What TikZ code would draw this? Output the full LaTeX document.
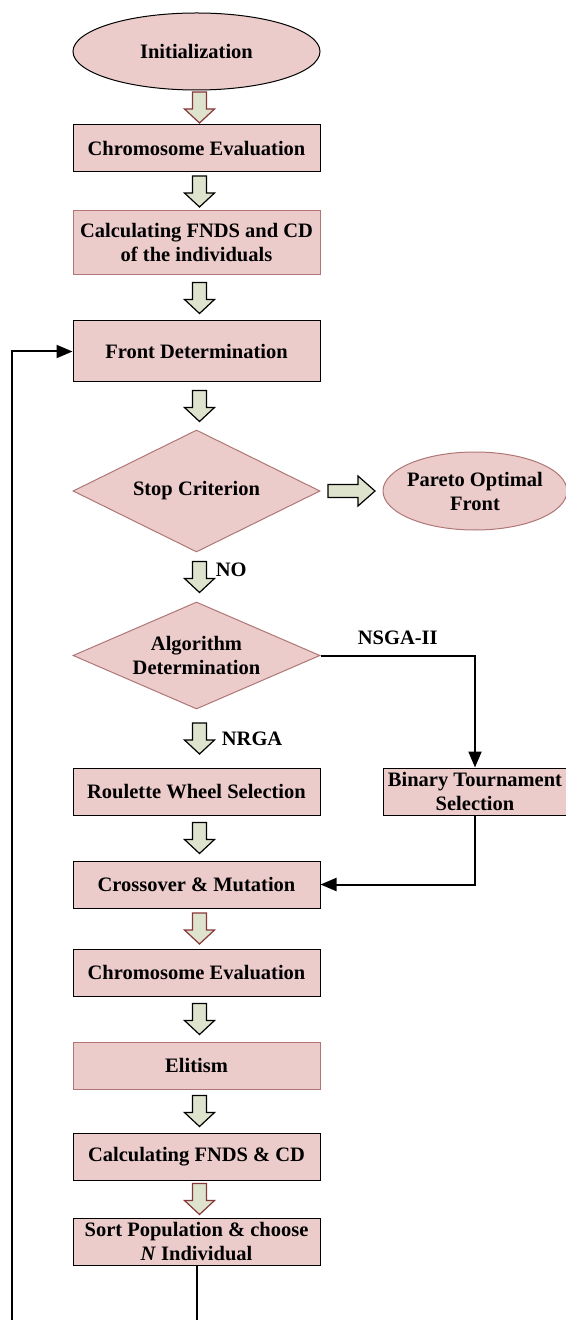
\documentclass[tikz,border=0pt]{standalone}
\usepackage{fontspec}
\setmainfont{Liberation Serif}
\usepackage{xcolor}
\usepackage{tikz}
\usetikzlibrary{positioning}
\usetikzlibrary{calc}
\usetikzlibrary{shapes.geometric}
\usetikzlibrary{arrows.meta}

\definecolor{boxpink}{RGB}{236,203,203}
\definecolor{arrowgreen}{RGB}{221,227,204}
\definecolor{rimred}{RGB}{176,118,118}
\definecolor{tipred}{RGB}{135,55,55}

% fat block arrow between two stacked nodes
\newcommand{\fatdown}[3][black]{%
  \draw[fatarrow, draw=#1] ($(#2.south)!0.5!(#3.north)$) ++(-2pt,7.75pt) -- ++(7pt,0) -- ++(0,-8.5pt)
    -- ++(4pt,0) -- ++(-7.5pt,-7pt) -- ++(-7.5pt,7pt) -- ++(4pt,0) -- cycle;}
\newcommand{\fatright}[3][black]{%
  \draw[fatarrow, draw=#1] ($(#2.east)!0.5!(#3.west)$) ++(-11.75pt,3.25pt) -- ++(15pt,0) -- ++(0,4.25pt)
    -- ++(8.5pt,-7.5pt) -- ++(-8.5pt,-7.5pt) -- ++(0,4.25pt) -- ++(-15pt,0) -- cycle;}

\begin{document}
\begin{tikzpicture}[
  txt/.style={font=\fontsize{10.25pt}{12pt}\selectfont\bfseries, align=center},
  box/.style={txt, rectangle, draw, fill=boxpink, line width=0.5pt, minimum width=123.5pt, minimum height=23.5pt, inner sep=1pt},
  term/.style={txt, ellipse, draw, fill=boxpink, line width=0.5pt, minimum width=123.5pt, minimum height=38.5pt, inner xsep=-2pt, inner ysep=0pt},
  decision/.style={txt, diamond, aspect=2, draw=rimred, fill=boxpink, line width=0.5pt, minimum width=123.5pt, inner sep=0pt},
  lbl/.style={txt, inner sep=0pt},
  fatarrow/.style={fill=arrowgreen, line width=0.6pt, line join=miter},
  flow/.style={line width=1pt, -{Triangle[length=8pt,width=6.5pt]}}
]
\useasboundingbox (0,0) rectangle (283pt,-660pt);
% start
\node[term] (init) at (98.25pt,-25.75pt) {Initialization};
\node[box, below=17pt of init] (ce1) {Chromosome Evaluation};
\node[box, draw=rimred, minimum height=32pt, below=19pt of ce1] (calc1) {Calculating FNDS and CD\\of the individuals};
\node[box, minimum height=30.5pt, below=22.5pt of calc1] (front) {Front Determination};
% stop test
\node[decision, minimum height=61pt, below=23.5pt of front] (stop) {Stop Criterion};
\node[term, draw=rimred, minimum width=92pt, minimum height=39pt, right=31pt of stop] (pareto) {Pareto Optimal\\Front};
% algorithm choice
\node[decision, minimum height=53.5pt, below=24.5pt of stop] (alg) {Algorithm\\Determination};
\node[box, below=29pt of alg] (rws) {Roulette Wheel Selection};
\node[box, minimum width=92pt, right=31pt of rws] (bts) {Binary Tournament\\Selection};
% offspring
\node[box, below=22.5pt of rws] (cm) {Crossover \& Mutation};
\node[box, below=20pt of cm] (ce2) {Chromosome Evaluation};
\node[box, draw=rimred, below=22.5pt of ce2] (elit) {Elitism};
\node[box, below=21.5pt of elit] (calc2) {Calculating FNDS \& CD};
\node[box, inner ysep=0pt, below=18.5pt of calc2] (sort) {Sort Population \& choose\\\textit{N} Individual};
% block arrows
\fatdown[tipred]{init}{ce1}
\fatdown{ce1}{calc1}
\fatdown{calc1}{front}
\fatdown{front}{stop}
\fatright{stop}{pareto}
\fatdown{stop}{alg}
\fatdown{alg}{rws}
\fatdown{rws}{cm}
\fatdown[tipred]{cm}{ce2}
\fatdown{ce2}{elit}
\fatdown{elit}{calc2}
\fatdown[tipred]{calc2}{sort}
% labels
\node[lbl, below right=5pt and 9.5pt of stop.south] (no) {NO};
\node[lbl, below right=11pt and 12.5pt of alg.south] (nrga) {NRGA};
% connectors
\draw[flow] (alg.east) -| node[lbl, pos=0.25, above=5pt] (nsga) {NSGA-II} (bts.north);
\draw[flow] (bts.south) |- (cm.east);
% loop back
\coordinate (loopL) at (6pt,-660pt);
\coordinate (loopR) at (sort.south |- loopL);
\draw[line width=1pt] (sort.south) -- (loopR);
\draw[flow] (loopL) |- (front.west);
\end{tikzpicture}
\end{document}
